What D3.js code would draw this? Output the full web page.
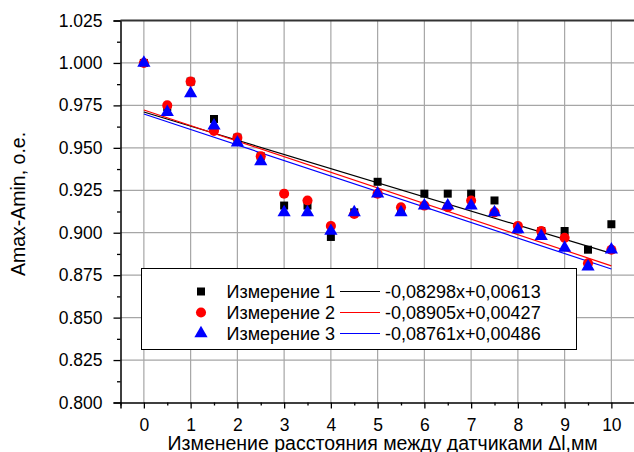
<!DOCTYPE html>
<html>
<head>
<meta charset="utf-8">
<script src="https://cdn.jsdelivr.net/npm/d3@7"></script>
<style>
  body { margin: 0; background: #fff; }
  text { font-family: "Liberation Sans", Arial, sans-serif; fill: #000; }
</style>
</head>
<body>
<script>
// distance change, mm
const xs = [0, 0.5, 1, 1.5, 2, 2.5, 3, 3.5, 4, 4.5, 5, 5.5, 6, 6.5, 7, 7.5, 8, 8.5, 9, 9.5, 10];

const meas1 = [1.000, 0.974, 0.989, 0.967, 0.956, 0.945, 0.916, 0.916, 0.8975, 0.912, 0.930,
               0.913, 0.923, 0.923, 0.923, 0.919, 0.902, 0.901, 0.901, 0.890, 0.905];
const meas2 = [1.000, 0.975, 0.989, 0.960, 0.956, 0.945, 0.923, 0.919, 0.904, 0.911, 0.923,
               0.915, 0.916, 0.915, 0.919, 0.912, 0.904, 0.901, 0.897, 0.882, 0.890];
const meas3 = [1.000, 0.971, 0.982, 0.963, 0.953, 0.942, 0.912, 0.912, 0.901, 0.912, 0.923,
               0.912, 0.916, 0.916, 0.916, 0.912, 0.902, 0.898, 0.891, 0.880, 0.890];

// fitted lines, value at x=0 and at x=10
const fitStart = [0.9711, 0.9723, 0.9699];
const fitEnd = [0.8878, 0.8805, 0.8786];

const seriesNames = ["Измерение 1", "Измерение 2", "Измерение 3"];
const equations = ["-0,08298x+0,00613", "-0,08905x+0,00427", "-0,08761x+0,00486"];
const colors = ["#000000", "#ff0000", "#0000ff"];

const xTicks = [0, 1, 2, 3, 4, 5, 6, 7, 8, 9, 10];
const yTicks = [0.800, 0.825, 0.850, 0.875, 0.900, 0.925, 0.950, 0.975, 1.000, 1.025];

const W = 634, H = 452;
const plotLeft = 120.5, plotTop = 20.5, plotBottom = 402.5, unit = 46.75;

const svg = d3.select("body").append("svg")
    .attr("width", W)
    .attr("height", H);

const x = d3.scaleLinear().domain([-0.5, 10.5]).range([plotLeft, plotLeft + 11 * unit]);
const y = d3.scaleLinear().domain([0.8, 1.025]).range([plotBottom, plotTop]);

// grid
svg.append("g").selectAll("line.vg")
    .data(xTicks)
    .enter().append("line")
    .attr("x1", d => x(d)).attr("x2", d => x(d))
    .attr("y1", plotTop).attr("y2", plotBottom)
    .attr("stroke", "#a6a6a6").attr("stroke-width", 1.2);

svg.append("g").selectAll("line.hg")
    .data(yTicks.slice(1, -1))
    .enter().append("line")
    .attr("x1", plotLeft).attr("x2", W)
    .attr("y1", d => y(d)).attr("y2", d => y(d))
    .attr("stroke", "#a6a6a6").attr("stroke-width", 1.2);

// axes
svg.append("g")
    .attr("transform", `translate(0,${plotBottom})`)
    .call(d3.axisBottom(x).tickValues(xTicks).tickSize(6).tickPadding(10).tickFormat(d3.format("d")));
svg.append("g")
    .attr("transform", `translate(0,${plotBottom})`)
    .call(d3.axisBottom(x).tickValues(d3.range(-0.5, 10.6, 1)).tickSize(3).tickFormat(""))
    .select(".domain").remove();

svg.append("g")
    .attr("transform", `translate(${plotLeft},0)`)
    .call(d3.axisLeft(y).tickValues(yTicks).tickSize(7).tickPadding(11).tickFormat(d3.format(".3f")));
svg.append("g")
    .attr("transform", `translate(${plotLeft},0)`)
    .call(d3.axisLeft(y).tickValues(yTicks.slice(0, -1).map(d => d + 0.0125)).tickSize(3.5).tickFormat(""))
    .select(".domain").remove();

svg.selectAll(".domain").attr("stroke", "#000").attr("stroke-width", 1.5);
svg.selectAll(".tick line").attr("stroke", "#000").attr("stroke-width", 1.3);
svg.selectAll(".tick text").style("font-size", "17.5px").style("font-family", "Liberation Sans, Arial, sans-serif");

// top frame
svg.append("line")
    .attr("x1", plotLeft).attr("x2", W)
    .attr("y1", plotTop).attr("y2", plotTop)
    .attr("stroke", "#333").attr("stroke-width", 2.2);

// fitted lines
svg.append("g").selectAll("line.fit")
    .data(fitStart)
    .enter().append("line")
    .attr("x1", x(0)).attr("x2", x(10))
    .attr("y1", d => y(d))
    .attr("y2", (d, i) => y(fitEnd[i]))
    .attr("stroke", (d, i) => colors[i])
    .attr("stroke-width", 1.2);

// markers
const symbols = [d3.symbolSquare, d3.symbolCircle, d3.symbolTriangle];
const symSize = [64, 80, 76];
[meas1, meas2, meas3].forEach((vals, i) => {
    svg.append("g").selectAll("path")
        .data(vals)
        .enter().append("path")
        .attr("d", d3.symbol().type(symbols[i]).size(symSize[i]))
        .attr("transform", (d, j) => `translate(${x(xs[j])},${y(d)})`)
        .attr("fill", colors[i]);
});

// legend
const lg = svg.append("g");
lg.append("rect")
    .attr("x", 141.5).attr("y", 268.5)
    .attr("width", 435).attr("height", 81)
    .attr("fill", "#fff").attr("stroke", "#000").attr("stroke-width", 1);

seriesNames.forEach((name, i) => {
    const cy = 291.5 + i * 21;
    lg.append("path")
        .attr("d", d3.symbol().type(symbols[i]).size(symSize[i]))
        .attr("transform", `translate(201,${cy})`)
        .attr("fill", colors[i]);
    lg.append("text")
        .attr("x", 226.5).attr("y", cy + 6.5)
        .style("font-size", "18px")
        .text(name);
    lg.append("line")
        .attr("x1", 340).attr("x2", 380)
        .attr("y1", cy).attr("y2", cy)
        .attr("stroke", colors[i]).attr("stroke-width", 1.2);
    lg.append("text")
        .attr("x", 385).attr("y", cy + 6.5)
        .style("font-size", "18px")
        .text(equations[i]);
});

// axis titles
svg.append("text")
    .attr("x", (x(0) + x(10)) / 2 + 5).attr("y", 450)
    .attr("text-anchor", "middle")
    .style("font-size", "19.5px")
    .text("Изменение расстояния между датчиками Δl,мм");

svg.append("text")
    .attr("transform", `translate(25,204) rotate(-90)`)
    .attr("text-anchor", "middle")
    .style("font-size", "19.5px")
    .text("Amax-Amin, o.e.");
</script>
</body>
</html>
